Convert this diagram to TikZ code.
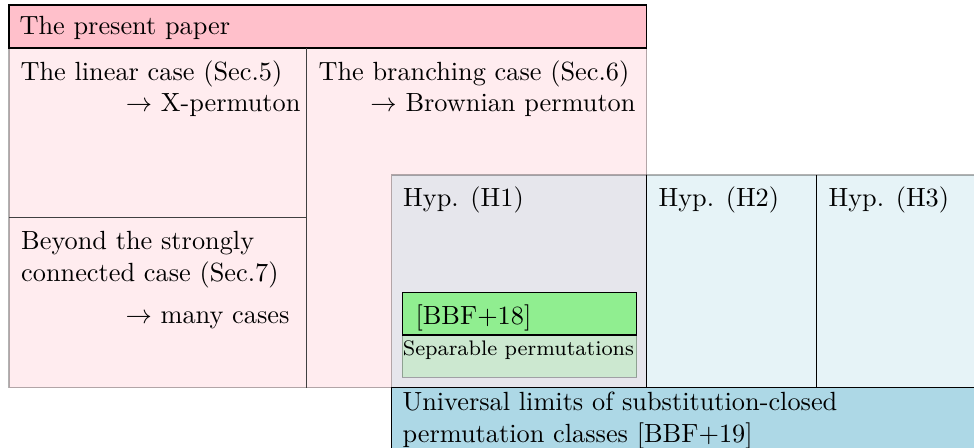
\documentclass[tikz,border=0pt]{standalone}
\usepackage{tikz}
\usetikzlibrary{positioning}
\definecolor{paperpink}{RGB}{255,192,203}
\definecolor{hypblue}{RGB}{173,216,230}
\definecolor{refgreen}{RGB}{144,238,144}
\begin{document}
\begin{tikzpicture}[x=0.3802pt, y=-0.3802pt,
txt/.style={anchor=base west, inner sep=0pt},
rtxt/.style={anchor=base east, inner sep=0pt},
faded/.style={fill opacity=0.3, draw opacity=0.3},
divider/.style={draw=black!75},
]
\clip (0,0) rectangle (974,448);
\draw[faded, fill=paperpink] (9,48) rectangle (646.7,387.7);
\draw[fill=paperpink] (9,5) rectangle (646.7,48);
\draw[divider] (306.7,48) -- (306.7,387.7);
\draw[divider] (9,217.7) -- (306.7,217.7);
\node[txt](title) at (19,35){The present paper};
\node[txt](linear) at (20,81){The linear case (Sec.5)};
\node[rtxt](xperm) at (301,112){$\to$ X-permuton};
\node[txt](branch) at (318,81){The branching case (Sec.6)};
\node[rtxt](brown) at (636,112){$\to$ Brownian permuton};
\node[txt](beyond) at (20.7,250){Beyond the strongly};
\node[txt](connected) at (20.7,282){connected case (Sec.7)};
\node[rtxt](many) at (290,324){$\to$ many cases};
\draw[faded, fill=hypblue] (391.7,175) rectangle (1000,387.7);
\draw (646.7,175) -- (646.7,387.7);
\draw (816.7,175) -- (816.7,387.7);
\node[txt](hyp1) at (402.7,207){Hyp. (H1)};
\node[txt](hyp2) at (658,207){Hyp. (H2)};
\node[txt](hyp3) at (828,207){Hyp. (H3)};
\draw[faded, fill=refgreen] (402.3,335) rectangle (636.7,377.3);
\draw[fill=refgreen] (402.3,292.7) rectangle (636.7,335);
\node[txt](bbf18) at (415,325){[BBF+18]};
\node[txt](separable) at (402.3,356){\footnotesize Separable permutations};
\draw[fill=hypblue] (391.7,387.7) rectangle (1000,500);
\node[txt](universal) at (402,411){Universal limits of substitution-closed};
\node[txt](classes) at (402,443){permutation classes [BBF+19]};
\end{tikzpicture}
\end{document}
